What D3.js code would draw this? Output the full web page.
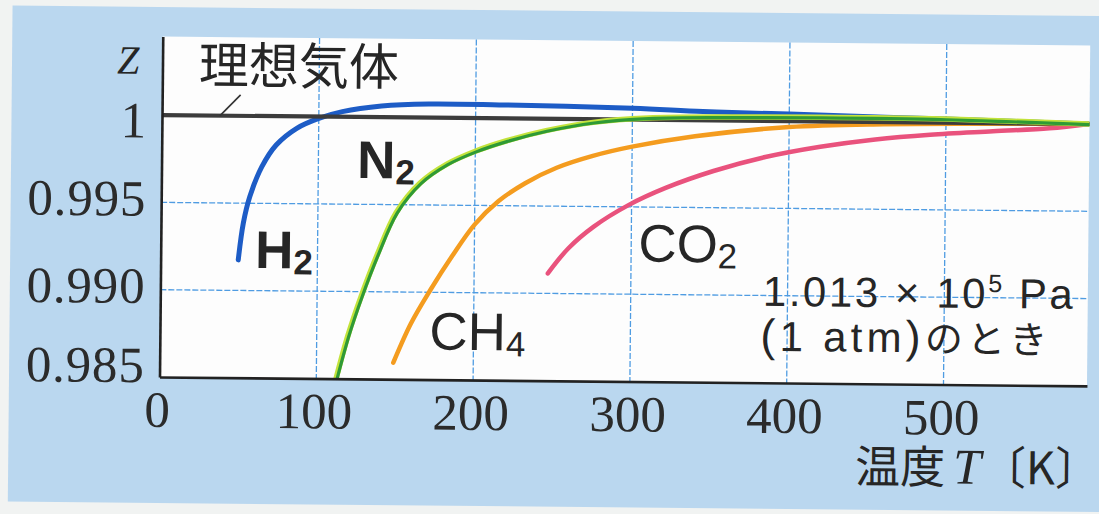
<!DOCTYPE html>
<html>
<head>
<meta charset="utf-8">
<script src="https://cdn.jsdelivr.net/npm/d3@7"></script>
<style>
    body { margin: 0; background: #f1f3f2; }
    svg { display: block; }
</style>
</head>
<body>
<svg id="chart" width="1099" height="514"></svg>
<script>
// Compressibility factor Z vs temperature at 1 atm

// H2
const tH2 = [49.5, 52.5, 56.5, 64, 73, 86, 100, 115, 140, 170, 215, 300, 345, 400, 500, 591];
const zH2 = [0.99175, 0.99385, 0.99538, 0.9971, 0.99835, 0.99932, 0.9999, 1.0003, 1.00064, 1.00078, 1.00077, 1.00065, 1.0005, 1.0004, 1.0002, 1.0];

// N2
const tN2 = [112.6, 120, 128, 138, 150, 165, 182, 200, 220, 245, 275, 310, 360, 420, 500, 591];
const zN2 = [0.985, 0.9875, 0.9897, 0.9921, 0.99455, 0.99625, 0.99735, 0.9981, 0.99872, 0.99932, 0.99982, 1.0001, 1.0002, 1.00024, 1.0002, 1.0];

// CH4
const tCH4 = [149, 160, 172, 186, 200, 215, 232, 252, 275, 300, 340, 400, 460, 520, 591];
const zCH4 = [0.98595, 0.9882, 0.9901, 0.9921, 0.9939, 0.99525, 0.9963, 0.9972, 0.9979, 0.99845, 0.99908, 0.99966, 0.99987, 0.99995, 1.0];

// CO2
const tCO2 = [247, 260, 276, 298, 322, 352, 385, 420, 455, 490, 530, 566, 591];
const zCO2 = [0.99115, 0.9926, 0.99385, 0.9951, 0.99612, 0.9971, 0.99793, 0.99855, 0.999, 0.9993, 0.99953, 0.99973, 1.0];

// ideal gas line and its little leader tick
const tIdeal = [0, 591];
const zIdeal = [1, 1];
const tLeader = [37, 50];
const zLeader = [1.0, 1.0012];

// axes
const xTicks = [0, 100, 200, 300, 400, 500];
const yTicks = [0.985, 0.990, 0.995, 1];
const yTickLabels = ["0.985", "0.990", "0.995", "1"];
const xDomain = [0, 591.5];
const yDomain = [0.985, 1.0045];

const toPoints = (ts, zs) => ts.map((t, i) => [t, zs[i]]);

const svg = d3.select("#chart");

// the scanned figure is a touch rotated, so everything sits in one tilted group
const root = svg.append("g").attr("transform", "rotate(0.55,160,377)");

root.append("rect")
    .attr("x", 9).attr("y", 7)
    .attr("width", 1110).attr("height", 496)
    .attr("fill", "#bad7ef");

const xScale = d3.scaleLinear().domain(xDomain).range([159.5, 1087]);
const yScale = d3.scaleLinear().domain(yDomain).range([377, 36.5]);

// white plot area
root.append("rect")
    .attr("x", xScale(xDomain[0])).attr("y", yScale(yDomain[1]))
    .attr("width", xScale(xDomain[1]) - xScale(xDomain[0]))
    .attr("height", yScale(yDomain[0]) - yScale(yDomain[1]))
    .attr("fill", "#fdfdfd");

root.append("clipPath").attr("id", "plot-clip")
    .append("rect")
    .attr("x", xScale(xDomain[0])).attr("y", yScale(yDomain[1]))
    .attr("width", xScale(xDomain[1]) - xScale(xDomain[0]))
    .attr("height", yScale(yDomain[0]) - yScale(yDomain[1]));

// grid
const grid = root.append("g")
    .attr("stroke", "#4f9ce2")
    .attr("stroke-width", 1.3)
    .attr("stroke-dasharray", "6,2");
grid.selectAll("line.vx")
    .data(xTicks.filter(d => d > 0))
    .enter().append("line")
    .attr("x1", d => xScale(d)).attr("x2", d => xScale(d))
    .attr("y1", yScale(yDomain[1])).attr("y2", yScale(yDomain[0]));
grid.selectAll("line.hy")
    .data(yTicks.filter(d => d > yDomain[0]))
    .enter().append("line")
    .attr("x1", xScale(xDomain[0])).attr("x2", xScale(xDomain[1]))
    .attr("y1", d => yScale(d)).attr("y2", d => yScale(d));

const line = d3.line()
    .x(d => xScale(d[0]))
    .y(d => yScale(d[1]))
    .curve(d3.curveCatmullRom.alpha(0.5));

const curves = root.append("g").attr("clip-path", "url(#plot-clip)")
    .attr("fill", "none").attr("stroke-linecap", "round");

curves.append("path").attr("d", line(toPoints(tCO2, zCO2)))
    .attr("stroke", "#e9527d").attr("stroke-width", 4.5);
curves.append("path").attr("d", line(toPoints(tCH4, zCH4)))
    .attr("stroke", "#f49c1f").attr("stroke-width", 4.5);
curves.append("path").attr("d", line(toPoints(tH2, zH2)))
    .attr("stroke", "#1d5cc6").attr("stroke-width", 5);
curves.append("path").attr("d", line(toPoints(tIdeal, zIdeal)))
    .attr("stroke", "#3c3c3c").attr("stroke-width", 4.2);
// N2 is printed as a green line with a yellow-green edge
curves.append("path").attr("d", line(toPoints(tN2, zN2)))
    .attr("stroke", "#c3e33c").attr("stroke-width", 5.5);
curves.append("path").attr("d", line(toPoints(tN2, zN2)))
    .attr("transform", "translate(0.9,0.6)")
    .attr("stroke", "#2f9a36").attr("stroke-width", 3.2);

root.append("path")
    .attr("d", d3.line().x(d => xScale(d[0])).y(d => yScale(d[1]))(toPoints(tLeader, zLeader)))
    .attr("stroke", "#333").attr("stroke-width", 1.6);

// axes
const serif = "'Liberation Serif', 'DejaVu Serif', serif";

const xAxis = root.append("g")
    .attr("transform", "translate(0," + yScale(yDomain[0]) + ")")
    .call(d3.axisBottom(xScale).tickValues(xTicks).tickSize(0).tickSizeOuter(0).tickFormat(d3.format("d")));
const yAxis = root.append("g")
    .attr("transform", "translate(" + xScale(xDomain[0]) + ",0)")
    .call(d3.axisLeft(yScale).tickValues(yTicks).tickSize(0).tickSizeOuter(0)
        .tickFormat((d, i) => yTickLabels[i]));

[xAxis, yAxis].forEach(a => {
    a.select(".domain").attr("stroke", "#222").attr("stroke-width", 2.6);
    a.selectAll("text")
     .attr("font-family", serif).attr("font-size", 51)
     .attr("fill", "#2b2b2b");
});
xAxis.selectAll("text").attr("y", 50).attr("dy", 0).attr("dx", -2.5);
// the printed labels for 1 and 0.985 are nudged away from the corners
const yNudge = d => d === 1 ? 22 : (d === 0.985 ? 5 : 13);
yAxis.selectAll(".tick text").attr("x", -15).attr("dy", 0)
     .attr("letter-spacing", 0.8)
     .attr("y", d => yNudge(d));

// text
const sans = "'Liberation Sans', Arial, sans-serif";
const jp = "'Noto Sans CJK JP', 'Noto Sans', sans-serif";
const ink = "#262626";

root.append("text")
    .attr("x", 114).attr("y", 74)
    .attr("font-family", serif).attr("font-style", "italic").attr("font-size", 40)
    .attr("fill", ink).text("Z");

root.append("text")
    .attr("x", 196).attr("y", 83)
    .attr("font-family", jp).attr("font-size", 50)
    .attr("fill", ink).text("理想気体");

function formula(x, y, main, sub, weight) {
    const t = root.append("text")
        .attr("x", x).attr("y", y)
        .attr("font-family", sans).attr("font-size", 53)
        .attr("font-weight", weight).attr("fill", ink);
    t.append("tspan").text(main);
    t.append("tspan").attr("font-size", 35).attr("dy", 6).text(sub);
}
formula(254, 267, "H", "2", "bold");
formula(355, 176, "N", "2", "bold");
formula(429, 347, "CH", "4", "normal");
formula(637, 257, "CO", "2", "normal");

const cond1 = root.append("text")
    .attr("x", 762).attr("y", 300)
    .attr("font-family", sans).attr("font-size", 42)
    .attr("textLength", 310).attr("lengthAdjust", "spacing")
    .attr("fill", ink);
cond1.append("tspan").text("1.013 × 10");
cond1.append("tspan").attr("font-size", 25).attr("dy", -16).text("5");
cond1.append("tspan").attr("dy", 16).text(" Pa");

const cond2 = root.append("text")
    .attr("x", 760).attr("y", 345)
    .attr("font-family", sans).attr("font-size", 42)
    .attr("textLength", 287).attr("lengthAdjust", "spacing")
    .attr("fill", ink);
cond2.append("tspan").attr("font-size", 45).text("(");
cond2.append("tspan").text("1 atm");
cond2.append("tspan").attr("font-size", 45).text(")");
cond2.append("tspan").attr("font-family", jp).attr("font-size", 38).text("のとき");

const xTitle = root.append("text")
    .attr("x", 856).attr("y", 476)
    .attr("font-size", 45).attr("fill", ink);
xTitle.append("tspan").attr("font-family", jp).text("温度");
xTitle.append("tspan").attr("font-family", serif).attr("font-style", "italic")
      .attr("font-size", 50).attr("dx", 8).text("T");
xTitle.append("tspan").attr("font-family", jp).text("〔K〕");
</script>
</body>
</html>
